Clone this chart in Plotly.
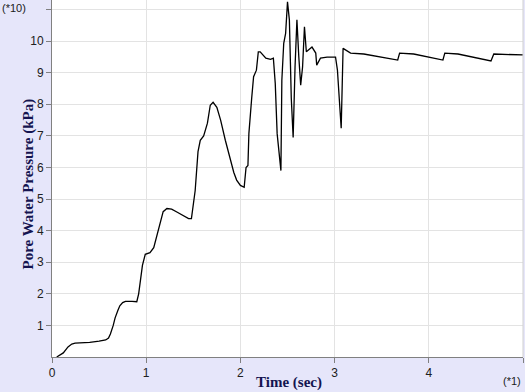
import plotly.graph_objects as go

time_sec = [0.05, 0.085, 0.12, 0.17, 0.21, 0.245, 0.4, 0.5, 0.57, 0.6, 0.62, 0.65, 0.67, 0.7, 0.72,
            0.75, 0.78, 0.85, 0.9, 0.92, 0.94, 0.96, 0.99, 1.04, 1.08, 1.12, 1.15, 1.18, 1.22, 1.27,
            1.33, 1.4, 1.45, 1.48, 1.49, 1.52, 1.55, 1.574, 1.61, 1.65, 1.68, 1.71, 1.75, 1.79, 1.84,
            1.89, 1.93, 1.96, 2.0, 2.04, 2.06, 2.08, 2.09, 2.12, 2.14, 2.17, 2.19, 2.21, 2.27, 2.32,
            2.35, 2.37, 2.39, 2.43, 2.44, 2.46, 2.48, 2.5, 2.52, 2.54, 2.56, 2.58, 2.6, 2.62, 2.64,
            2.66, 2.68, 2.7, 2.72, 2.76, 2.8, 2.81, 2.85, 2.92, 3.01, 3.03, 3.06, 3.07, 3.09, 3.12,
            3.17, 3.31, 3.52, 3.67, 3.69, 3.84, 4.15, 4.17, 4.31, 4.66, 4.69, 5.0]
pressure = [0.0, 0.06, 0.13, 0.32, 0.41, 0.44, 0.46, 0.5, 0.54, 0.6, 0.73, 1.0, 1.24, 1.48, 1.62,
            1.72, 1.76, 1.76, 1.75, 2.0, 2.4, 2.9, 3.25, 3.3, 3.46, 3.9, 4.2, 4.6, 4.7, 4.68,
            4.58, 4.45, 4.38, 4.38, 4.63, 5.27, 6.5, 6.86, 7.0, 7.4, 7.97, 8.06, 7.9, 7.5, 6.86,
            6.3, 5.84, 5.6, 5.43, 5.37, 6.0, 6.06, 7.07, 8.2, 8.87, 9.08, 9.66, 9.66, 9.46, 9.42,
            9.46, 8.66, 7.07, 5.9, 8.76, 9.93, 10.24, 11.24, 10.67, 8.2, 6.95, 9.18, 10.67, 9.5, 8.6,
            9.18, 10.45, 9.66, 9.71, 9.81, 9.62, 9.24, 9.46, 9.49, 9.49, 9.08, 7.7, 7.24, 9.77, 9.71,
            9.62, 9.59, 9.49, 9.4, 9.62, 9.59, 9.4, 9.62, 9.59, 9.37, 9.59, 9.56]

x_ticks = [0, 1, 2, 3, 4, 5]
x_labels = ["0", "1", "2", "3", "4", ""]
y_ticks = [1, 2, 3, 4, 5, 6, 7, 8, 9, 10, 11]
y_labels = ["1", "2", "3", "4", "5", "6", "7", "8", "9", "10", ""]

fig = go.Figure()
fig.add_trace(go.Scatter(x=time_sec, y=pressure, mode="lines",
                         line=dict(color="black", width=1.3), showlegend=False))

tick_font = dict(family="Liberation Sans, Arial", size=12, color="#202020")
fig.update_layout(
    width=525, height=392,
    margin=dict(l=52, r=2, t=0, b=35),
    paper_bgcolor="#E6E6FA",
    plot_bgcolor="white",
    xaxis=dict(range=[0, 5.0], tickvals=x_ticks, ticktext=x_labels, ticks="outside",
               ticklen=5, tickcolor="#808080", showline=True, linecolor="#808080",
               linewidth=1, showgrid=True, gridcolor="#E3E3E3", zeroline=False,
               tickfont=tick_font),
    yaxis=dict(range=[0, 11.3], tickvals=y_ticks, ticktext=y_labels, ticks="outside",
               ticklen=5, tickcolor="#808080", showline=True, linecolor="#808080",
               linewidth=1, showgrid=True, gridcolor="#E3E3E3", zeroline=False,
               tickfont=tick_font),
    annotations=[
        dict(text="<b>Time (sec)</b>", xref="paper", yref="paper", x=0.503, y=0,
             yshift=-25, xanchor="center", yanchor="middle", showarrow=False,
             font=dict(family="Liberation Serif, Times New Roman", size=15, color="#141450")),
        dict(text="<b>Pore Water Pressure (kPa)</b>", xref="paper", yref="paper", x=0, y=0.5,
             xshift=-24, yshift=-6, xanchor="center", yanchor="middle", textangle=-90, showarrow=False,
             font=dict(family="Liberation Serif, Times New Roman", size=15, color="#141450")),
        dict(text="(*10)", xref="paper", yref="paper", x=0, y=1, xshift=-52, yshift=-8,
             xanchor="left", yanchor="middle", showarrow=False,
             font=dict(family="Liberation Sans, Arial", size=11, color="#202020")),
        dict(text="(*1)", xref="paper", yref="paper", x=1, y=0, xshift=0, yshift=-24,
             xanchor="right", yanchor="middle", showarrow=False,
             font=dict(family="Liberation Sans, Arial", size=11, color="#202020")),
    ],
    shapes=[dict(type="line", xref="paper", yref="paper", x0=1, x1=1, y0=0, y1=1,
                 line=dict(color="#D0D0D0", width=1))],
)

fig.write_html("out.html")
